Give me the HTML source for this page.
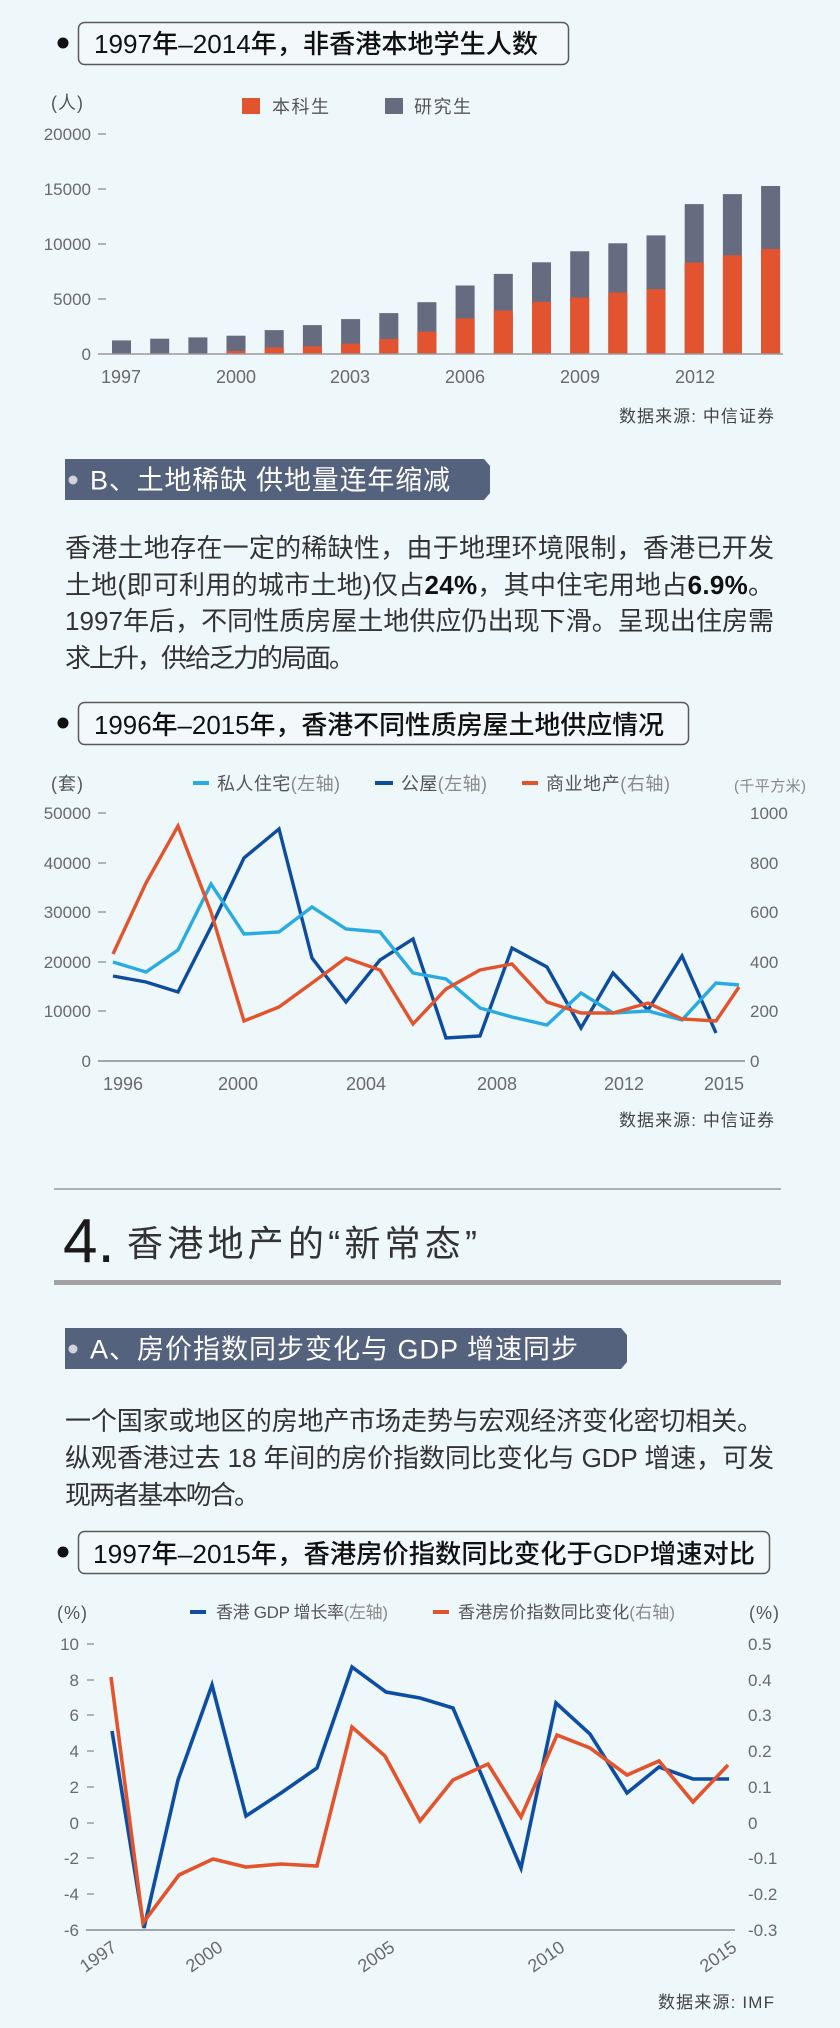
<!DOCTYPE html>
<html><head><meta charset="utf-8">
<style>
html,body{margin:0;padding:0;background:#eef7fa;}
svg{display:block;}
text{font-family:"Liberation Sans","Noto Sans CJK SC",sans-serif;}
.ax{font-size:17px;fill:#6a6a6a;}
.lg{font-size:18px;fill:#555;}
.lg2{fill:#8a8a8a;}
.tt{font-size:26px;fill:#111;font-weight:500;}
.hd{font-size:27px;fill:#fff;}
.bd{font-size:26px;fill:#333;}
.src{font-size:17px;fill:#444;}
</style></head>
<body>
<svg width="840" height="2028" viewBox="0 0 840 2028" xmlns="http://www.w3.org/2000/svg">
<rect width="840" height="2028" fill="#eef7fa"/>

<!-- ===== Chart 1 ===== -->
<circle cx="63" cy="43" r="5.5" fill="#111"/>
<rect x="78.5" y="22.5" width="490" height="42" rx="6" fill="#f3f9fb" stroke="#5a5a5a" stroke-width="1.5"/>
<text class="tt" x="94" y="53" textLength="444" lengthAdjust="spacingAndGlyphs">1997年–2014年，非香港本地学生人数</text>

<text class="lg" x="51" y="109" fill="#666" textLength="32">(人)</text>
<rect x="242" y="98" width="18" height="16" fill="#e25330"/>
<text class="lg" x="272" y="113" textLength="57">本科生</text>
<rect x="385" y="98" width="18" height="16" fill="#666b80"/>
<text class="lg" x="414" y="113" textLength="57">研究生</text>

<g class="ax" text-anchor="end">
<text x="91" y="140">20000</text>
<text x="91" y="195">15000</text>
<text x="91" y="250">10000</text>
<text x="91" y="305">5000</text>
<text x="91" y="360">0</text>
</g>
<g stroke="#888" stroke-width="1.2">
<line x1="98" y1="134" x2="106" y2="134"/>
<line x1="98" y1="189" x2="106" y2="189"/>
<line x1="98" y1="244" x2="106" y2="244"/>
<line x1="98" y1="299" x2="106" y2="299"/>
</g>

<g fill="#666b80">
<rect x="112.0" y="340.4" width="19" height="13.6"/>
<rect x="150.2" y="338.7" width="19" height="15.3"/>
<rect x="188.4" y="337.4" width="19" height="16.6"/>
<rect x="226.5" y="335.7" width="19" height="18.3"/>
<rect x="264.7" y="330.1" width="19" height="23.9"/>
<rect x="302.9" y="325.1" width="19" height="28.9"/>
<rect x="341.1" y="319.1" width="19" height="34.9"/>
<rect x="379.3" y="313.1" width="19" height="40.9"/>
<rect x="417.4" y="302.2" width="19" height="51.8"/>
<rect x="455.6" y="285.5" width="19" height="68.5"/>
<rect x="493.8" y="273.9" width="19" height="80.1"/>
<rect x="532.0" y="262.3" width="19" height="91.7"/>
<rect x="570.2" y="251.3" width="19" height="102.7"/>
<rect x="608.3" y="243.3" width="19" height="110.7"/>
<rect x="646.5" y="235.4" width="19" height="118.6"/>
<rect x="684.7" y="204.1" width="19" height="149.9"/>
<rect x="722.9" y="194.1" width="19" height="159.9"/>
<rect x="761.1" y="186.0" width="19" height="168.0"/>
</g>
<g fill="#e25330">
<rect x="226.5" y="351.0" width="19" height="3.0"/>
<rect x="264.7" y="347.4" width="19" height="6.6"/>
<rect x="302.9" y="346.4" width="19" height="7.6"/>
<rect x="341.1" y="343.7" width="19" height="10.3"/>
<rect x="379.3" y="339.0" width="19" height="15.0"/>
<rect x="417.4" y="331.7" width="19" height="22.3"/>
<rect x="455.6" y="318.4" width="19" height="35.6"/>
<rect x="493.8" y="310.5" width="19" height="43.5"/>
<rect x="532.0" y="301.8" width="19" height="52.2"/>
<rect x="570.2" y="297.5" width="19" height="56.5"/>
<rect x="608.3" y="292.5" width="19" height="61.5"/>
<rect x="646.5" y="289.2" width="19" height="64.8"/>
<rect x="684.7" y="262.6" width="19" height="91.4"/>
<rect x="722.9" y="255.3" width="19" height="98.7"/>
<rect x="761.1" y="249.0" width="19" height="105.0"/>
</g>
<line x1="98" y1="354" x2="783" y2="354" stroke="#9a9a9a" stroke-width="1.6"/>

<g class="ax" text-anchor="middle" style="font-size:18px">
<text x="121" y="383">1997</text>
<text x="236" y="383">2000</text>
<text x="350" y="383">2003</text>
<text x="465" y="383">2006</text>
<text x="580" y="383">2009</text>
<text x="695" y="383">2012</text>
</g>
<text class="src" x="619" y="422" textLength="155">数据来源: 中信证券</text>

<!-- ===== Section B ===== -->
<polygon points="65,459 484,459 490,466 490,493 484,500 65,500" fill="#55627e"/>
<circle cx="73" cy="480" r="4.5" fill="#cfd3da"/>
<text class="hd" x="90" y="489.5" textLength="360">B、土地稀缺 供地量连年缩减</text>

<text class="bd" x="65" y="557" textLength="709">香港土地存在一定的稀缺性，由于地理环境限制，香港已开发</text>
<text class="bd" x="65" y="594" textLength="709">土地(即可利用的城市土地)仅占<tspan font-weight="bold" fill="#111">24%</tspan>，其中住宅用地占<tspan font-weight="bold" fill="#111">6.9%</tspan>。</text>
<text class="bd" x="65" y="630" textLength="709">1997年后，不同性质房屋土地供应仍出现下滑。呈现出住房需</text>
<text class="bd" x="65" y="667" textLength="290">求上升，供给乏力的局面。</text>

<!-- ===== Chart 2 ===== -->
<circle cx="63" cy="723" r="5.5" fill="#111"/>
<rect x="78.5" y="702.5" width="610" height="42" rx="6" fill="#f3f9fb" stroke="#5a5a5a" stroke-width="1.5"/>
<text class="tt" x="94" y="734" textLength="570" lengthAdjust="spacingAndGlyphs">1996年–2015年，香港不同性质房屋土地供应情况</text>

<text class="lg" x="51" y="790" fill="#666" textLength="32">(套)</text>
<line x1="193" y1="783" x2="209" y2="783" stroke="#29abe2" stroke-width="4"/>
<text class="lg" x="217" y="790" textLength="123">私人住宅<tspan class="lg2">(左轴)</tspan></text>
<line x1="375" y1="783" x2="393" y2="783" stroke="#0e4c9d" stroke-width="4"/>
<text class="lg" x="401" y="790" textLength="86">公屋<tspan class="lg2">(左轴)</tspan></text>
<line x1="522" y1="783" x2="538" y2="783" stroke="#e3542d" stroke-width="4"/>
<text class="lg" x="546" y="790" textLength="124">商业地产<tspan class="lg2">(右轴)</tspan></text>
<text x="734" y="791" style="font-size:15px;fill:#888" textLength="72">(千平方米)</text>

<g class="ax" text-anchor="end">
<text x="91" y="819">50000</text>
<text x="91" y="869">40000</text>
<text x="91" y="918">30000</text>
<text x="91" y="968">20000</text>
<text x="91" y="1017">10000</text>
<text x="91" y="1067">0</text>
</g>
<g class="ax">
<text x="750" y="819">1000</text>
<text x="750" y="869">800</text>
<text x="750" y="918">600</text>
<text x="750" y="968">400</text>
<text x="750" y="1017">200</text>
<text x="750" y="1067">0</text>
</g>
<g stroke="#888" stroke-width="1.2">
<line x1="98" y1="813" x2="106" y2="813"/>
<line x1="98" y1="863" x2="106" y2="863"/>
<line x1="98" y1="912" x2="106" y2="912"/>
<line x1="98" y1="962" x2="106" y2="962"/>
<line x1="98" y1="1011" x2="106" y2="1011"/>
</g>
<line x1="98" y1="1061" x2="745" y2="1061" stroke="#9a9a9a" stroke-width="1.8"/>

<g fill="none" stroke-width="3.4">
<polyline stroke="#0e4c9d" points="113,976 146,982 178,992 211,927 244,858 279,829 312,958 346,1002 380,960 413,939 446,1038 480,1036 512,948 547,967 581,1028 613,973 648,1010 682,956 716,1033"/>
<polyline stroke="#29abe2" points="113,962 146,972 178,950 211,884 244,934 279,932 312,907 346,929 380,932 413,973 446,979 480,1008 512,1017 547,1025 581,993 613,1013 648,1011 682,1020 716,983 739,985"/>
<polyline stroke="#e3542d" points="113,954 146,883 178,826 211,912 244,1021 279,1007 312,983 346,958 380,970 413,1024 446,989 480,970 512,964 547,1002 581,1013 613,1013 648,1003 682,1019 716,1021 739,987"/>
</g>

<g class="ax" text-anchor="middle" style="font-size:18px">
<text x="123" y="1090">1996</text>
<text x="238" y="1090">2000</text>
<text x="366" y="1090">2004</text>
<text x="497" y="1090">2008</text>
<text x="624" y="1090">2012</text>
<text x="724" y="1090">2015</text>
</g>
<text class="src" x="619" y="1126" textLength="155">数据来源: 中信证券</text>

<!-- ===== Section 4 ===== -->
<line x1="54" y1="1189" x2="781" y2="1189" stroke="#b0b0b0" stroke-width="2"/>
<text x="63" y="1262" style="font-size:62px;fill:#1a1a1a">4.</text>
<text x="127" y="1256" style="font-size:36px;fill:#333" textLength="350">香港地产的“新常态”</text>
<line x1="54" y1="1282.5" x2="781" y2="1282.5" stroke="#a3a3a3" stroke-width="5"/>

<polygon points="65,1328 621,1328 627,1335 627,1362 621,1369 65,1369" fill="#55627e"/>
<circle cx="73" cy="1349" r="4.5" fill="#cfd3da"/>
<text class="hd" x="90" y="1358.5" textLength="488">A、房价指数同步变化与 GDP 增速同步</text>

<text class="bd" x="65" y="1430" textLength="698">一个国家或地区的房地产市场走势与宏观经济变化密切相关。</text>
<text class="bd" x="65" y="1467" textLength="709">纵观香港过去 18 年间的房价指数同比变化与 GDP 增速，可发</text>
<text class="bd" x="65" y="1504" textLength="195">现两者基本吻合。</text>

<!-- ===== Chart 3 ===== -->
<circle cx="63" cy="1552" r="5.5" fill="#111"/>
<rect x="78.5" y="1531.5" width="691" height="42" rx="6" fill="#f3f9fb" stroke="#5a5a5a" stroke-width="1.5"/>
<text class="tt" x="93" y="1563" textLength="662" lengthAdjust="spacingAndGlyphs">1997年–2015年，香港房价指数同比变化于GDP增速对比</text>

<text class="lg" x="57" y="1619" fill="#666" textLength="30">(%)</text>
<text class="lg" x="749" y="1619" fill="#666" textLength="30">(%)</text>
<line x1="190" y1="1612" x2="206" y2="1612" stroke="#0d4ea3" stroke-width="4"/>
<text class="lg" x="216" y="1618" style="font-size:17px" textLength="172">香港 GDP 增长率<tspan class="lg2">(左轴)</tspan></text>
<line x1="433" y1="1612" x2="449" y2="1612" stroke="#e3542d" stroke-width="4"/>
<text class="lg" x="458" y="1618" style="font-size:17px" textLength="217">香港房价指数同比变化<tspan class="lg2">(右轴)</tspan></text>

<g class="ax" text-anchor="end">
<text x="79" y="1650">10</text>
<text x="79" y="1686">8</text>
<text x="79" y="1721">6</text>
<text x="79" y="1757">4</text>
<text x="79" y="1793">2</text>
<text x="79" y="1829">0</text>
<text x="79" y="1864">-2</text>
<text x="79" y="1900">-4</text>
<text x="79" y="1936">-6</text>
</g>
<g class="ax">
<text x="748" y="1650">0.5</text>
<text x="748" y="1686">0.4</text>
<text x="748" y="1721">0.3</text>
<text x="748" y="1757">0.2</text>
<text x="748" y="1793">0.1</text>
<text x="748" y="1829">0</text>
<text x="748" y="1864">-0.1</text>
<text x="748" y="1900">-0.2</text>
<text x="748" y="1936">-0.3</text>
</g>
<g stroke="#888" stroke-width="1.2">
<line x1="87" y1="1644" x2="94" y2="1644"/>
<line x1="87" y1="1680" x2="94" y2="1680"/>
<line x1="87" y1="1715" x2="94" y2="1715"/>
<line x1="87" y1="1751" x2="94" y2="1751"/>
<line x1="87" y1="1787" x2="94" y2="1787"/>
<line x1="87" y1="1823" x2="94" y2="1823"/>
<line x1="87" y1="1858" x2="94" y2="1858"/>
<line x1="87" y1="1894" x2="94" y2="1894"/>
</g>
<line x1="86" y1="1930" x2="735" y2="1930" stroke="#9a9a9a" stroke-width="1.8"/>

<g fill="none" stroke-width="3.6">
<polyline stroke="#0d4ea3" points="112,1731 144,1928 178,1780 212,1685 246,1816 281,1793 317,1768 352,1667 386,1692 420,1698 453,1708 487,1788 521,1868 556,1703 590,1734 627,1793 659,1767 693,1779 729,1779"/>
<polyline stroke="#e3542d" points="111,1677 143,1923 179,1875 213,1859 246,1867 281,1864 317,1866 352,1727 385,1756 420,1821 453,1780 488,1764 521,1817 557,1735 590,1748 627,1775 659,1761 693,1802 728,1765"/>
</g>

<g class="ax" text-anchor="end" style="font-size:18px">
<text x="118" y="1950" transform="rotate(-35 118 1950)">1997</text>
<text x="224" y="1950" transform="rotate(-35 224 1950)">2000</text>
<text x="396" y="1950" transform="rotate(-35 396 1950)">2005</text>
<text x="566" y="1950" transform="rotate(-35 566 1950)">2010</text>
<text x="738" y="1950" transform="rotate(-35 738 1950)">2015</text>
</g>
<text class="src" x="658" y="2008" textLength="116">数据来源: IMF</text>
</svg>
</body></html>
